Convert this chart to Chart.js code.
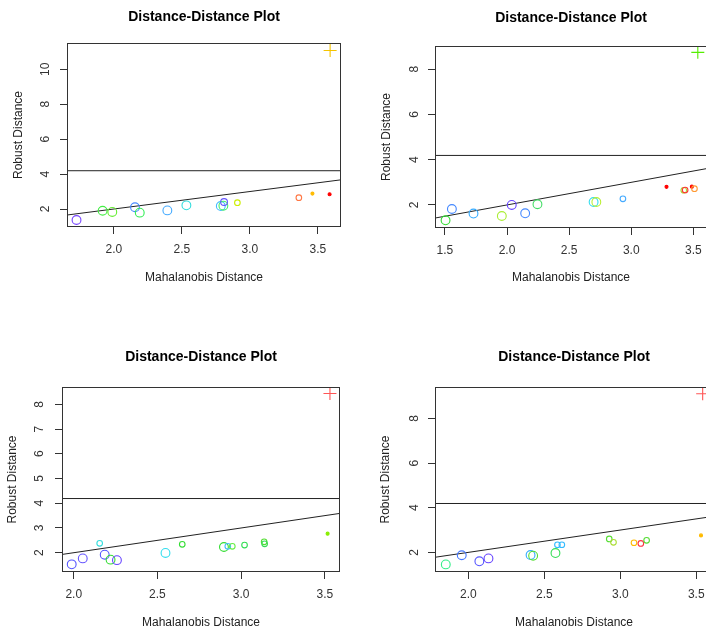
<!DOCTYPE html>
<html>
<head>
<meta charset="utf-8">
<script src="https://cdn.jsdelivr.net/npm/chart.js@4.4.1/dist/chart.umd.min.js"></script>
<style>
    html, body { margin: 0; padding: 0; background: #fff; }
    #wrap { position: relative; width: 706px; height: 630px; overflow: hidden; }
    canvas { position: absolute; }
</style>
</head>
<body>
<div id="wrap">
    <canvas id="dd1" width="353" height="315" style="left:0;top:0"></canvas>
    <canvas id="dd2" width="370" height="315" style="left:353px;top:0"></canvas>
    <canvas id="dd3" width="353" height="315" style="left:0;top:315px"></canvas>
    <canvas id="dd4" width="370" height="315" style="left:353px;top:315px"></canvas>
</div>
<script>
// panel 1 (top left)
const mdX1 = [1.725, 1.917, 1.988, 2.155, 2.19, 2.393, 2.533, 2.786, 2.805, 2.81, 2.908, 3.36, 3.46, 3.586, 3.59];
const rdY1 = [1.37, 1.90, 1.83, 2.10, 1.79, 1.92, 2.21, 2.17, 2.19, 2.40, 2.36, 2.65, 2.88, 2.84, 11.07];
const col1 = ['#7744FF', '#44EE44', '#66EE33', '#4488FF', '#33EE55', '#44AAFF', '#33DDDD', '#44BBFF',
    '#44EE66', '#6655FF', '#CCEE00', '#FF7744', '#FFBB00', '#FF0000', '#F5C400'];
const mark1 = ['L', 'L', 'L', 'L', 'L', 'L', 'L', 'L', 'L', 'M', 'S', 'S', 'D', 'D', 'P'];
const xTicks1 = [2.0, 2.5, 3.0, 3.5];
const yTicks1 = [2, 4, 6, 8, 10];
const xRange1 = [1.655, 3.67];
const yRange1 = [0.97, 11.5];

// panel 2 (top right)
const mdX2 = [1.505, 1.556, 1.73, 1.958, 2.038, 2.146, 2.245, 2.697, 2.719, 2.933, 3.284, 3.423, 3.434, 3.488, 3.509, 3.536];
const rdY2 = [1.32, 1.82, 1.62, 1.51, 2.0, 1.63, 2.03, 2.13, 2.13, 2.27, 2.80, 2.65, 2.66, 2.81, 2.72, 8.75];
const col2 = ['#33DD33', '#4488FF', '#33AAFF', '#AAEE33', '#6644FF', '#4488FF', '#44DD66', '#33DDEE',
    '#BBEE33', '#44AAFF', '#FF0000', '#AADD33', '#FF3333', '#FF0000', '#FF9933', '#55EE00'];
const mark2 = ['L', 'L', 'L', 'L', 'L', 'L', 'L', 'L', 'L', 'S', 'D', 'S', 'S', 'D', 'S', 'P'];
const xTicks2 = [1.5, 2.0, 2.5, 3.0, 3.5];
const yTicks2 = [2, 4, 6, 8];
const xRange2 = [1.42, 3.61];
const yRange2 = [0.98, 9.03];

// panel 3 (bottom left)
const mdX3 = [1.988, 2.054, 2.155, 2.185, 2.22, 2.258, 2.548, 2.648, 2.897, 2.92, 2.947, 3.02, 3.137, 3.14, 3.516, 3.53];
const rdY3 = [1.53, 1.77, 2.38, 1.92, 1.72, 1.70, 1.99, 2.34, 2.23, 2.26, 2.26, 2.31, 2.44, 2.36, 2.77, 8.44];
const col3 = ['#5555FF', '#6655FF', '#33DDDD', '#5555FF', '#33DD33', '#6644FF', '#33DDEE', '#33DD33',
    '#33DD33', '#44BBFF', '#66EE44', '#33DD55', '#55DD33', '#33DD55', '#88EE00', '#FF5555'];
const mark3 = ['L', 'L', 'S', 'L', 'L', 'L', 'L', 'S', 'L', 'S', 'S', 'S', 'S', 'S', 'D', 'P'];
const xTicks3 = [2.0, 2.5, 3.0, 3.5];
const yTicks3 = [2, 3, 4, 5, 6, 7, 8];
const xRange3 = [1.93, 3.59];
const yRange3 = [1.22, 8.70];

// panel 4 (bottom right)
const mdX4 = [1.851, 1.956, 2.072, 2.132, 2.409, 2.426, 2.586, 2.615, 2.573, 2.927, 2.955, 3.09, 3.135, 3.173, 3.531, 3.542];
const rdY4 = [1.46, 1.87, 1.60, 1.73, 1.88, 1.85, 2.34, 2.34, 1.97, 2.60, 2.45, 2.43, 2.40, 2.54, 2.76, 9.11];
const col4 = ['#33EE88', '#4477FF', '#5555FF', '#6644FF', '#33AAFF', '#55DD33', '#33BBFF', '#33BBFF',
    '#33DD55', '#55DD33', '#AADD33', '#FFBB00', '#FF3344', '#55DD33', '#FFBB00', '#FF5555'];
const mark4 = ['L', 'L', 'L', 'L', 'L', 'L', 'S', 'S', 'L', 'S', 'S', 'S', 'S', 'S', 'D', 'P'];
const xTicks4 = [2.0, 2.5, 3.0, 3.5];
const yTicks4 = [2, 4, 6, 8];
const xRange4 = [1.78, 3.61];
const yRange4 = [1.12, 9.41];

const cutoff = 4.19;

const FONT = "'Liberation Sans', Arial, sans-serif";
const markRadius = { L: 4.4, M: 3.4, S: 2.8, D: 1.5, P: 6.5 };

const boxPlugin = {
    id: 'rbox',
    afterDraw(chart) {
        const a = chart.chartArea;
        const ctx = chart.ctx;
        ctx.save();
        ctx.strokeStyle = '#333';
        ctx.lineWidth = 1;
        ctx.strokeRect(Math.round(a.left) + 0.5, Math.round(a.top) + 0.5,
            Math.round(a.right - a.left) - 1, Math.round(a.bottom - a.top) - 1);
        ctx.restore();
    }
};

function makePanel(id, xs, ys, cols, marks, xTicks, yTicks, xRange, yRange, g) {
    const pts = xs.map((x, i) => ({ x: x, y: ys[i] }));
    const ctx = document.getElementById(id).getContext('2d');
    return new Chart(ctx, {
        type: 'scatter',
        data: {
            datasets: [
                {
                    data: pts,
                    pointStyle: marks.map(m => m === 'P' ? 'cross' : 'circle'),
                    pointRadius: marks.map(m => markRadius[m]),
                    pointHoverRadius: marks.map(m => markRadius[m]),
                    pointBorderColor: cols,
                    pointBackgroundColor: marks.map((m, i) => m === 'D' ? cols[i] : 'rgba(0,0,0,0)'),
                    pointBorderWidth: 1.1
                },
                {
                    type: 'line',
                    data: [{ x: xRange[0], y: cutoff }, { x: xRange[1], y: cutoff }],
                    borderColor: '#222',
                    borderWidth: 1,
                    pointRadius: 0
                },
                {
                    type: 'line',
                    data: [{ x: xRange[0], y: xRange[0] }, { x: xRange[1], y: xRange[1] }],
                    borderColor: '#222',
                    borderWidth: 1,
                    pointRadius: 0
                }
            ]
        },
        options: {
            responsive: false,
            animation: false,
            devicePixelRatio: 1,
            layout: { padding: { left: 0, top: 0, bottom: 0, right: g.padRight } },
            plugins: {
                legend: { display: false },
                tooltip: { enabled: false },
                title: {
                    display: true,
                    text: 'Distance-Distance Plot',
                    fullSize: false,
                    color: '#000',
                    font: { family: FONT, size: 14, weight: 'bold' },
                    padding: { top: g.titleTop, bottom: g.titleBottom }
                }
            },
            scales: {
                x: {
                    type: 'linear',
                    min: xRange[0],
                    max: xRange[1],
                    afterBuildTicks: s => { s.ticks = xTicks.map(v => ({ value: v })); },
                    afterFit: s => { s.height = g.xAxisH; },
                    grid: { drawOnChartArea: false, drawTicks: true, tickLength: 7, color: '#333' },
                    border: { display: false },
                    ticks: {
                        color: '#333',
                        padding: 8,
                        maxRotation: 0,
                        font: { family: FONT, size: 12 },
                        callback: v => v.toFixed(1)
                    },
                    title: {
                        display: true,
                        text: 'Mahalanobis Distance',
                        color: '#222',
                        font: { family: FONT, size: 12 },
                        padding: { top: 0, bottom: g.xTitleBottom }
                    }
                },
                y: {
                    type: 'linear',
                    min: yRange[0],
                    max: yRange[1],
                    afterBuildTicks: s => { s.ticks = yTicks.map(v => ({ value: v })); },
                    afterFit: s => { s.width = g.yAxisW; },
                    grid: { drawOnChartArea: false, drawTicks: true, tickLength: 7, color: '#333' },
                    border: { display: false },
                    ticks: {
                        color: '#333',
                        padding: g.yTickPad,
                        minRotation: 90,
                        maxRotation: 90,
                        crossAlign: 'center',
                        font: { family: FONT, size: 12 },
                        callback: v => String(v)
                    },
                    title: {
                        display: true,
                        text: 'Robust Distance',
                        color: '#222',
                        font: { family: FONT, size: 12 },
                        padding: { top: g.yTitlePad, bottom: 0 }
                    }
                }
            }
        },
        plugins: [boxPlugin]
    });
}

makePanel('dd1', mdX1, rdY1, col1, mark1, xTicks1, yTicks1, xRange1, yRange1,
    { padRight: 12, titleTop: 8.6, titleBottom: 17.6, xAxisH: 88, yAxisW: 67, xTitleBottom: 29.8, yTitlePad: 11.5, yTickPad: 8 });
makePanel('dd2', mdX2, rdY2, col2, mark2, xTicks2, yTicks2, xRange2, yRange2,
    { padRight: 16, titleTop: 9.6, titleBottom: 19.6, xAxisH: 87, yAxisW: 82, xTitleBottom: 29.8, yTitlePad: 26.3, yTickPad: 10 });
makePanel('dd3', mdX3, rdY3, col3, mark3, xTicks3, yTicks3, xRange3, yRange3,
    { padRight: 13, titleTop: 33.6, titleBottom: 21.6, xAxisH: 58, yAxisW: 62, xTitleBottom: 0, yTitlePad: 5.5, yTickPad: 11.7 });
makePanel('dd4', mdX4, rdY4, col4, mark4, xTicks4, yTicks4, xRange4, yRange4,
    { padRight: 10, titleTop: 33.6, titleBottom: 21.6, xAxisH: 58, yAxisW: 82, xTitleBottom: 0, yTitlePad: 25.3, yTickPad: 10 });
</script>
</body>
</html>
